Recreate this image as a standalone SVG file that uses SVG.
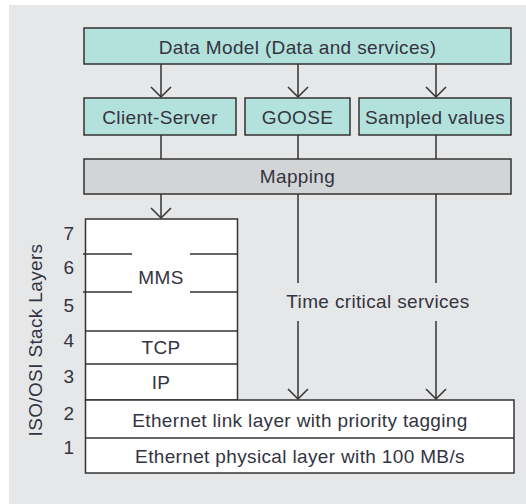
<svg xmlns="http://www.w3.org/2000/svg" width="526" height="504" viewBox="0 0 526 504">
  <style>
    .box { stroke: #333; stroke-width: 1.5; }
    .svc { fill: #b3e1dc; }
    .map { fill: #d3d4d6; }
    .layer { fill: #ffffff; }
    .t { font-family: "Liberation Sans", Arial, sans-serif; font-size: 19px; letter-spacing: 0.35px; fill: #34343f; text-anchor: middle; }
    .conn { stroke: #333; stroke-width: 1.5; fill: none; }
  </style>
  <defs>
    <marker id="vee" markerUnits="userSpaceOnUse" markerWidth="14" markerHeight="24" viewBox="-12 -12 14 24" refX="0" refY="0" orient="auto" overflow="visible">
      <path d="M-10,-10 L0,0 L-10,10" fill="none" stroke="#333" stroke-width="1.5"/>
    </marker>
  </defs>

  <rect x="9" y="5" width="517" height="499" fill="#e6e7e9"/>

  <!-- connectors -->
  <g id="connectors" class="conn">
    <line x1="161" y1="64" x2="161" y2="97" marker-end="url(#vee)"/>
    <line x1="298" y1="64" x2="298" y2="97" marker-end="url(#vee)"/>
    <line x1="436" y1="64" x2="436" y2="97" marker-end="url(#vee)"/>
    <line x1="161" y1="135" x2="161" y2="159"/>
    <line x1="298" y1="135" x2="298" y2="159"/>
    <line x1="436" y1="135" x2="436" y2="159"/>
    <line x1="161" y1="194" x2="161" y2="218" marker-end="url(#vee)"/>
    <line x1="298" y1="194" x2="298" y2="283"/>
    <line x1="436" y1="194" x2="436" y2="283"/>
    <line x1="298" y1="321" x2="298" y2="399" marker-end="url(#vee)"/>
    <line x1="436" y1="321" x2="436" y2="399" marker-end="url(#vee)"/>
  </g>

  <g id="data-model">
    <rect class="box svc" x="84" y="28" width="427" height="36"/>
    <text class="t" x="297.5" y="53.5">Data Model (Data and services)</text>
  </g>
  <g id="client-server">
    <rect class="box svc" x="84" y="98" width="152" height="37"/>
    <text class="t" x="160" y="123.5">Client-Server</text>
  </g>
  <g id="goose">
    <rect class="box svc" x="245" y="98" width="105" height="37"/>
    <text class="t" x="297.5" y="123.5">GOOSE</text>
  </g>
  <g id="sampled-values">
    <rect class="box svc" x="359" y="98" width="152" height="37"/>
    <text class="t" x="435" y="123.5">Sampled values</text>
  </g>
  <g id="mapping">
    <rect class="box map" x="84" y="159" width="427" height="35"/>
    <text class="t" x="297.5" y="183">Mapping</text>
  </g>

  <g id="upper-stack">
    <rect class="box layer" x="85.5" y="219" width="152" height="181"/>
    <g class="conn">
      <line x1="83" y1="254" x2="132" y2="254"/>
      <line x1="190" y1="254" x2="237.5" y2="254"/>
      <line x1="83" y1="292" x2="132" y2="292"/>
      <line x1="190" y1="292" x2="237.5" y2="292"/>
      <line x1="85.5" y1="331" x2="237.5" y2="331"/>
      <line x1="85.5" y1="364" x2="237.5" y2="364"/>
    </g>
    <text class="t" x="161" y="284">MMS</text>
    <text class="t" x="161" y="354">TCP</text>
    <text class="t" x="161" y="389">IP</text>
  </g>

  <g id="ethernet">
    <rect class="box layer" x="85.5" y="400" width="428.5" height="73"/>
    <line class="conn" x1="85.5" y1="438" x2="514" y2="438"/>
    <text class="t" x="300" y="426.5">Ethernet link layer with priority tagging</text>
    <text class="t" x="300" y="462.5">Ethernet physical layer with 100 MB/s</text>
  </g>

  <g id="time-critical">
    <text class="t" x="378" y="308">Time critical services</text>
  </g>

  <g id="layer-numbers" class="t">
    <text x="69" y="239.5">7</text>
    <text x="69" y="273.5">6</text>
    <text x="69" y="311.5">5</text>
    <text x="69" y="346.5">4</text>
    <text x="69" y="382.5">3</text>
    <text x="69" y="419.5">2</text>
    <text x="69" y="453.5">1</text>
  </g>
  <text class="t" transform="translate(42,340) rotate(-90)" x="0" y="0">ISO/OSI Stack Layers</text>
</svg>
